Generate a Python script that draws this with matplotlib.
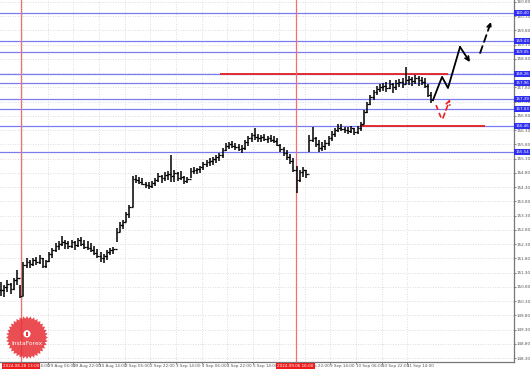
import numpy as np
import matplotlib
matplotlib.use('Agg')
import matplotlib.pyplot as plt
from matplotlib.patches import Polygon, Circle, Rectangle

# 2-hour OHLC bars (x = hour index, 2 h per bar)
highs = [150.97, 150.86, 151.04, 150.93, 151.11, 151.39, 150.86, 151.67, 151.81, 151.74,
         151.81, 151.84, 151.91, 151.81, 151.74, 152.02, 152.16, 152.34, 152.41, 152.58,
         152.44, 152.41, 152.44, 152.41, 152.51, 152.55, 152.44, 152.41, 152.34, 152.23,
         152.12, 152.02, 151.95, 152.09, 152.16, 152.20, 152.86, 153.07, 153.14, 153.42,
         153.67, 154.69, 154.72, 154.65, 154.62, 154.48, 154.48, 154.51, 154.62, 154.79,
         154.72, 154.83, 154.86, 155.43, 154.90, 154.83, 154.86, 154.69, 154.65, 154.97,
         155.01, 154.97, 155.04, 155.18, 155.25, 155.32, 155.36, 155.43, 155.50, 155.67,
         155.85, 155.88, 155.92, 155.85, 155.81, 155.78, 155.95, 156.09, 156.20, 156.38,
         156.16, 156.13, 156.16, 156.09, 156.13, 156.09, 156.02, 155.81, 155.71, 155.60,
         155.46, 155.32, 155.04, 154.90, 155.01, 154.90, 156.13, 156.41, 156.06, 155.95,
         155.88, 155.95, 156.09, 156.27, 156.38, 156.52, 156.52, 156.41, 156.41, 156.45,
         156.38, 156.45, 156.59, 157.01, 157.29, 157.53, 157.71, 157.85, 157.92, 157.96,
         157.99, 158.06, 157.96, 158.06, 158.10, 158.13, 158.52, 158.20, 158.17, 158.24,
         158.20, 158.17, 158.13, 157.92, 157.64]
lows = [150.47, 150.44, 150.62, 150.55, 150.69, 150.86, 150.40, 150.47, 151.46, 151.46,
        151.53, 151.56, 151.60, 151.46, 151.46, 151.67, 151.81, 152.02, 152.09, 152.23,
        152.12, 152.12, 152.16, 152.09, 152.20, 152.23, 152.12, 152.09, 152.02, 151.91,
        151.81, 151.67, 151.63, 151.74, 151.91, 151.95, 152.37, 152.72, 152.83, 153.07,
        153.21, 153.60, 154.44, 154.41, 154.37, 154.27, 154.23, 154.27, 154.34, 154.48,
        154.44, 154.51, 154.55, 154.48, 154.48, 154.51, 154.55, 154.41, 154.44, 154.62,
        154.76, 154.76, 154.79, 154.90, 155.01, 155.04, 155.08, 155.15, 155.22, 155.32,
        155.57, 155.64, 155.67, 155.60, 155.57, 155.50, 155.60, 155.74, 155.88, 155.95,
        155.88, 155.88, 155.92, 155.85, 155.88, 155.85, 155.74, 155.53, 155.39, 155.25,
        155.11, 154.83, 154.09, 154.48, 154.65, 154.62, 155.53, 155.88, 155.71, 155.53,
        155.57, 155.60, 155.74, 155.92, 156.06, 156.23, 156.27, 156.20, 156.16, 156.20,
        156.13, 156.16, 156.27, 156.52, 156.90, 157.18, 157.36, 157.53, 157.64, 157.67,
        157.64, 157.74, 157.60, 157.71, 157.81, 157.78, 157.92, 157.88, 157.85, 157.92,
        157.85, 157.88, 157.78, 157.46, 157.25]
closes = [150.69, 150.79, 150.90, 150.72, 151.04, 151.11, 150.47, 151.56, 151.67, 151.60,
          151.74, 151.67, 151.81, 151.53, 151.70, 151.95, 152.09, 152.23, 152.30, 152.37,
          152.34, 152.23, 152.37, 152.27, 152.44, 152.30, 152.20, 152.16, 152.09, 151.98,
          151.88, 151.81, 151.88, 152.02, 152.09, 152.12, 152.72, 152.97, 153.07, 153.35,
          153.60, 154.58, 154.55, 154.48, 154.41, 154.37, 154.34, 154.44, 154.55, 154.69,
          154.62, 154.72, 154.76, 154.69, 154.79, 154.62, 154.65, 154.51, 154.58, 154.86,
          154.90, 154.94, 155.01, 155.11, 155.18, 155.22, 155.29, 155.36, 155.43, 155.60,
          155.74, 155.81, 155.74, 155.71, 155.64, 155.67, 155.88, 156.02, 156.13, 156.06,
          156.02, 156.06, 155.99, 156.02, 155.95, 155.92, 155.78, 155.64, 155.50, 155.36,
          155.22, 154.90, 154.55, 154.83, 154.90, 154.76, 155.95, 156.02, 155.81, 155.67,
          155.74, 155.85, 156.02, 156.16, 156.30, 156.38, 156.34, 156.30, 156.27, 156.38,
          156.23, 156.38, 156.52, 156.94, 157.22, 157.46, 157.64, 157.74, 157.81, 157.85,
          157.78, 157.92, 157.81, 157.96, 157.99, 157.92, 158.06, 158.10, 158.03, 158.13,
          158.06, 157.99, 157.85, 157.53, 157.36]

# horizontal levels (blue) and red segments
levels = [160.40, 159.43, 159.05, 158.26, 157.96, 157.39, 157.03, 156.46, 155.54]
red_levels = [158.26, 156.46]
red_spans = [(136.4, 278.3), (223.5, 301.4)]

# forecast sketch (hour index, price)
fc_solid_x = [269.0, 274.6, 278.3, 285.8, 292.0]
fc_solid_y = [157.36, 158.17, 157.78, 159.22, 158.69]
fc_dash_x = [298.3, 305.1]
fc_dash_y = [159.01, 160.10]
fc_red_x = [270.9, 274.0, 275.2, 279.6]
fc_red_y = [157.18, 156.73, 156.73, 157.39]

vline_hours = [12.45, 183.4]
vline_labels = ['2024.08.28 13:00', '2024.09.06 16:00']

date_labels = ['28 Aug 14:00', '29 Aug 06:00', '29 Aug 22:00', '30 Aug 14:00',
               '2 Sep 06:00', '2 Sep 22:00', '3 Sep 14:00', '4 Sep 06:00',
               '4 Sep 22:00', '5 Sep 14:00', '6 Sep 06:00', '6 Sep 22:00',
               '9 Sep 14:00', '10 Sep 06:00', '10 Sep 22:00', '11 Sep 14:00']
price_ticks = np.arange(148.30, 160.81, 0.5)

NARROW = ['Liberation Sans Narrow', 'DejaVu Sans']

W, H = 531, 369
fig = plt.figure(figsize=(W / 100, H / 100), dpi=100)
ax = fig.add_axes([0, 7 / H, 514 / W, 362 / H])

x = np.arange(len(closes)) * 2.0
opens = [closes[0]] + closes[:-1]
ax.vlines(x, lows, highs, color='black', linewidth=1.1, zorder=4)
ax.hlines(opens, x - 1.1, x, color='black', linewidth=0.9, zorder=4)
ax.hlines(closes, x, x + 1.1, color='black', linewidth=0.9, zorder=4)

for lv in levels:
    ax.axhline(lv, color='#7b7bf2', linewidth=0.9, zorder=2)
    ax.annotate(f'{lv:.2f}', xy=(1.0, lv), xycoords=('axes fraction', 'data'),
                xytext=(1.0, 0), textcoords='offset points', fontsize=2.9,
                family=NARROW, color='white', va='center', ha='left',
                annotation_clip=False,
                bbox=dict(boxstyle='square,pad=0.25', fc='#2f2ff0', ec='none'), zorder=10)
for lv, (x0, x1) in zip(red_levels, red_spans):
    ax.hlines(lv, x0, x1, color='#e52222', linewidth=1.3, zorder=3)

for vh in vline_hours:
    ax.axvline(vh, color='#f07070', linewidth=0.9, zorder=3)

ax.plot(fc_solid_x[:-1], fc_solid_y[:-1], color='black', linewidth=1.3, zorder=6)
ax.annotate('', xy=(fc_solid_x[-1], fc_solid_y[-1]), xytext=(fc_solid_x[-2], fc_solid_y[-2]),
            arrowprops=dict(arrowstyle='->', color='black', lw=1.3,
                            mutation_scale=7, shrinkA=0, shrinkB=0), zorder=6)
ax.annotate('', xy=(fc_dash_x[1], fc_dash_y[1]), xytext=(fc_dash_x[0], fc_dash_y[0]),
            arrowprops=dict(arrowstyle='->', color='black', lw=1.3, linestyle=(0, (4, 2.5)),
                            mutation_scale=7, shrinkA=0, shrinkB=0), zorder=6)
ax.plot(fc_red_x[:-1], fc_red_y[:-1], color='#ee2020', linewidth=1.2,
        linestyle=(0, (3, 2)), zorder=6)
ax.annotate('', xy=(fc_red_x[-1], fc_red_y[-1]), xytext=(fc_red_x[-2], fc_red_y[-2]),
            arrowprops=dict(arrowstyle='->', color='#ee2020', lw=1.2, linestyle=(0, (3, 2)),
                            mutation_scale=7, shrinkA=0, shrinkB=0), zorder=6)

ax.set_xlim(-0.6, 319.4)
ax.set_ylim(148.16, 160.87)

date_pos = 13 + 16 * np.arange(len(date_labels))
ax.set_xticks(date_pos)
ax.set_xticklabels(date_labels, ha='left', family=NARROW)
ax.yaxis.tick_right()
ax.set_yticks(price_ticks)
ax.set_yticklabels([f'{p:.2f}' for p in price_ticks], family=NARROW)
ax.tick_params(axis='both', labelsize=3.0, colors='#555555', length=1.2, width=0.5, pad=0.6)
ax.grid(True, color='#d2d2d2', linestyle=(0, (1, 2)), linewidth=0.6)
ax.set_axisbelow(True)
for side in ['top', 'left']:
    ax.spines[side].set_visible(False)
for side in ['right', 'bottom']:
    ax.spines[side].set_color('#777777')
    ax.spines[side].set_linewidth(0.9)

for vh, lab in zip(vline_hours, vline_labels):
    ax.annotate(lab, xy=(vh, 0), xycoords=('data', 'axes fraction'),
                xytext=(0, -3.0), textcoords='offset points', fontsize=3.0,
                family=NARROW, color='white', ha='center', va='center',
                annotation_clip=False,
                bbox=dict(boxstyle='square,pad=0.3', fc='#ee1c1c', ec='none'), zorder=12)

# InstaForex badge
lax = fig.add_axes([5 / W, 9 / H, 44 / W, 45 / H])
lax.set_xlim(-1.05, 1.05)
lax.set_ylim(-1.05, 1.05)
lax.axis('off')
n = 36
ang = np.linspace(0, 2 * np.pi, 2 * n, endpoint=False)
rad = np.where(np.arange(2 * n) % 2 == 0, 1.0, 0.88)
lax.add_patch(Polygon(np.c_[rad * np.cos(ang), rad * np.sin(ang)], closed=True,
                      fc='#e8343a', ec='none', alpha=0.88))
lax.add_patch(Circle((0, 0.17), 0.17, fc='white', ec='none'))
lax.add_patch(Rectangle((-0.06, 0.06), 0.12, 0.18, fc='#e8343a', ec='none'))
lax.text(0, -0.3, 'InstaForex', color='white', fontsize=4.3, ha='center', va='center')

fig.savefig('out.png', dpi=100)
